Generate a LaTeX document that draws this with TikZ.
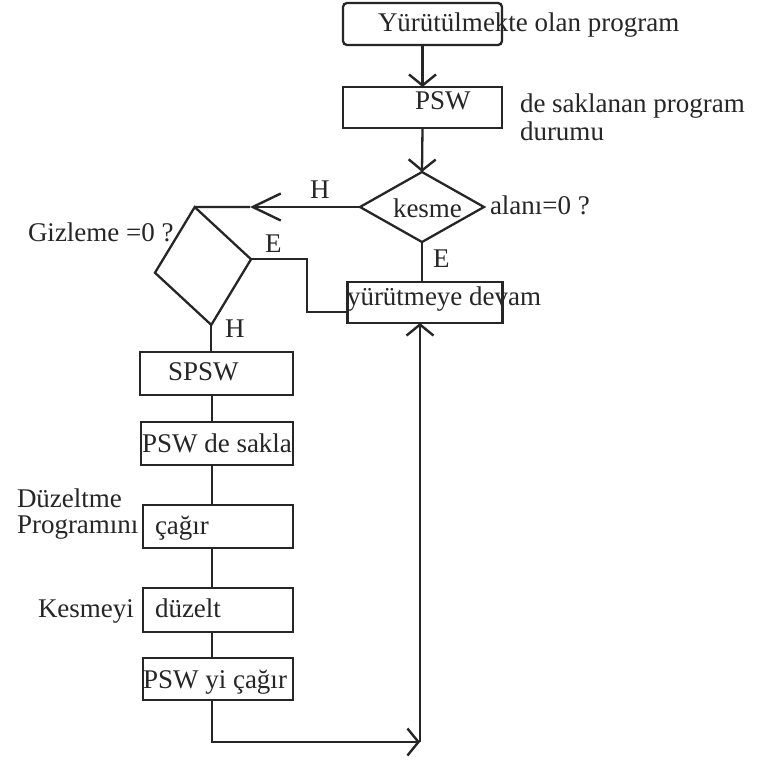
\documentclass[tikz,border=0pt]{standalone}
\usepackage{fontspec}
\setmainfont{Liberation Serif}
\usetikzlibrary{shapes.geometric,arrows.meta}
\definecolor{ink}{HTML}{262626}
\begin{document}
\begin{tikzpicture}[x=1pt,y=-1pt,
  ln/.style={line width=2.3pt, draw=ink},
  box/.style={draw=ink, line width=2.3pt, rectangle, inner sep=0pt, outer sep=0pt},
  dia/.style={draw=ink, line width=2.3pt, diamond, inner sep=0pt, outer sep=0pt},
  txt/.style={inner sep=0pt, outer sep=0pt, anchor=base west, text=ink, font=\fontsize{27}{31}\selectfont},
  arr/.style={-{Straight Barb[length=11pt,width=27pt,line width=2.4pt]}},
  harr/.style={-{Straight Barb[length=28pt,width=27pt,line width=2.4pt]}}]
\useasboundingbox[fill=white] (0,0) rectangle (772,760);
% boxes
\node[box, rounded corners=4pt, minimum width=159pt, minimum height=42pt] (top) at (422.5,24) {};
\node[box, minimum width=159pt, minimum height=41pt] (psw) at (422.5,107.5) {};
\node[dia, minimum width=124pt, minimum height=70pt] (d1) at (422,207) {};
\node[box, minimum width=155pt, minimum height=41pt] (yd) at (425,302.5) {};
\node[dia, minimum width=97pt, minimum height=119pt, rotate=8] (d2) at (203,266) {};
\node[box, minimum width=153pt, minimum height=43pt] (sp) at (216.5,373.5) {};
\node[box, minimum width=152pt, minimum height=43pt] (ps) at (217,443.5) {};
\node[box, minimum width=150pt, minimum height=43pt] (cg) at (218,526.5) {};
\node[box, minimum width=150pt, minimum height=44pt] (dz) at (218,610) {};
\node[box, minimum width=150pt, minimum height=42pt] (pc) at (218,679) {};
\coordinate (lx) at (212,0);
\coordinate (hm) at (250,207);
\coordinate (ec) at (307,285);
\coordinate (cr) at (420,742);
% connectors
\draw[ln,arr] (top.south) -- (psw.north);
\draw[ln,arr] (psw.south) -- (d1.north);
\draw[ln] (d1.south) -- (d1.south |- yd.north);
\draw[ln,harr] (d1.west) -- (hm);
\draw[ln] (hm) -- (d2.north);
\draw[ln] (d2.east) -| (ec) |- (yd.187);
\draw[ln] (d2.south) -- (d2.south |- sp.north);
\draw[ln] (sp.south -| lx) -- (ps.north -| lx);
\draw[ln] (ps.south -| lx) -- (cg.north -| lx);
\draw[ln] (cg.south -| lx) -- (dz.north -| lx);
\draw[ln] (dz.south -| lx) -- (pc.north -| lx);
\draw[ln,arr] (pc.south -| lx) |- (cr);
\draw[ln,arr] (cr) -- (cr |- yd.south);
% texts
\node[txt] (t1) at (378,32) {Yürütülmekte olan program};
\node[txt] (t2) at (415,110) {PSW};
\node[txt] (t3) at (520,113) {de saklanan program};
\node[txt] (t4) at (520,140) {durumu};
\node[txt] (t5) at (393,217) {kesme};
\node[txt] (t6) at (490,214) {alanı=0 ?};
\node[txt] (t7) at (310,198) {H};
\node[txt] (t8) at (433,267) {E};
\node[txt] (t9) at (28,241) {Gizleme =0 ?};
\node[txt] (t10) at (265,252) {E};
\node[txt] (t11) at (225,337) {H};
\node[txt] (t12) at (347,305) {yürütmeye devam};
\node[txt] (t13) at (168,380) {SPSW};
\node[txt] (t14) at (142,452) {PSW de sakla};
\node[txt] (t15) at (17,507) {Düzeltme};
\node[txt] (t16) at (17,533) {Programını};
\node[txt] (t17) at (155,534) {çağır};
\node[txt] (t18) at (38,617) {Kesmeyi};
\node[txt] (t19) at (155,617) {düzelt};
\node[txt] (t20) at (143,688) {PSW yi çağır};
\end{tikzpicture}
\end{document}
